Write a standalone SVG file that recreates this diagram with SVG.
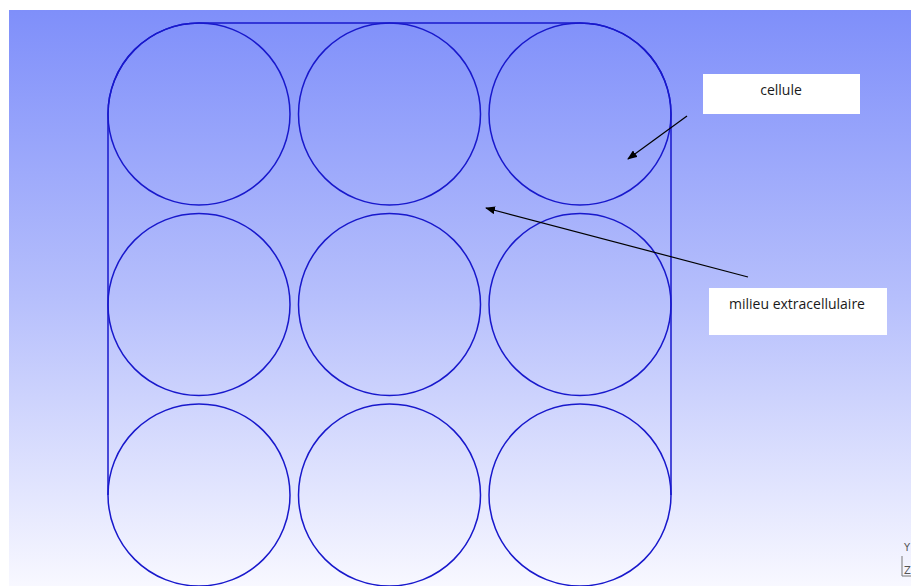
<svg xmlns="http://www.w3.org/2000/svg" width="911" height="586" viewBox="0 0 911 586">
  <defs>
    <linearGradient id="bg" x1="0" y1="0" x2="0" y2="1">
      <stop offset="0" stop-color="#7f8ffa"/>
      <stop offset="0.5" stop-color="#b6bffc"/>
      <stop offset="1" stop-color="#f8f8ff"/>
    </linearGradient>
    <marker id="arrow" markerWidth="10" markerHeight="8" refX="9" refY="4" orient="auto" markerUnits="userSpaceOnUse">
      <path d="M0,0 L10,4 L0,8 z" fill="#000"/>
    </marker>
  </defs>
  <style>
    .cell { fill: none; stroke: #1818cc; stroke-width: 1.5; }
    .outline { fill: none; stroke: #1818cc; stroke-width: 1.5; }
    .box { fill: #ffffff; }
    .lbl { font-family: "Open Sans", "Noto Sans", "Liberation Sans", sans-serif; font-size: 14px; fill: #1a1a1a; }
    .conn { stroke: #000; stroke-width: 1.2; fill: none; marker-end: url(#arrow); }
    .axis { font-family: "DejaVu Sans", sans-serif; font-size: 10px; fill: #555; }
  </style>
  <rect x="0" y="0" width="911" height="586" fill="#ffffff"/>
  <rect x="9" y="10" width="902" height="576" fill="url(#bg)"/>

  <g id="domain">
    <path class="outline" d="M108,495 V114 A91,91 0 0 1 199,23 H580 A91,91 0 0 1 671,114 V495"/>
  </g>

  <g id="cell-1-1"><circle class="cell" cx="199" cy="114" r="91"/></g>
  <g id="cell-1-2"><circle class="cell" cx="389.5" cy="114" r="91"/></g>
  <g id="cell-1-3"><circle class="cell" cx="580" cy="114" r="91"/></g>
  <g id="cell-2-1"><circle class="cell" cx="199" cy="304.5" r="91"/></g>
  <g id="cell-2-2"><circle class="cell" cx="389.5" cy="304.5" r="91"/></g>
  <g id="cell-2-3"><circle class="cell" cx="580" cy="304.5" r="91"/></g>
  <g id="cell-3-1"><circle class="cell" cx="199" cy="495" r="91"/></g>
  <g id="cell-3-2"><circle class="cell" cx="389.5" cy="495" r="91"/></g>
  <g id="cell-3-3"><circle class="cell" cx="580" cy="495" r="91"/></g>

  <g id="label-cellule">
    <rect class="box" x="703" y="74" width="157" height="40"/>
    <text class="lbl" x="781" y="95" text-anchor="middle">cellule</text>
  </g>
  <g id="label-milieu">
    <rect class="box" x="709" y="288" width="178" height="47"/>
    <text class="lbl" x="797" y="309" text-anchor="middle">milieu extracellulaire</text>
  </g>

  <g id="connectors">
    <line class="conn" x1="687" y1="116" x2="628" y2="159"/>
    <line class="conn" x1="748" y1="277" x2="486" y2="208"/>
  </g>

  <g id="axes">
    <path d="M902,556 V576 H911" fill="none" stroke="#777" stroke-width="1"/>
    <text class="axis" x="904" y="551">Y</text>
    <text class="axis" x="904" y="574">Z</text>
  </g>
</svg>
